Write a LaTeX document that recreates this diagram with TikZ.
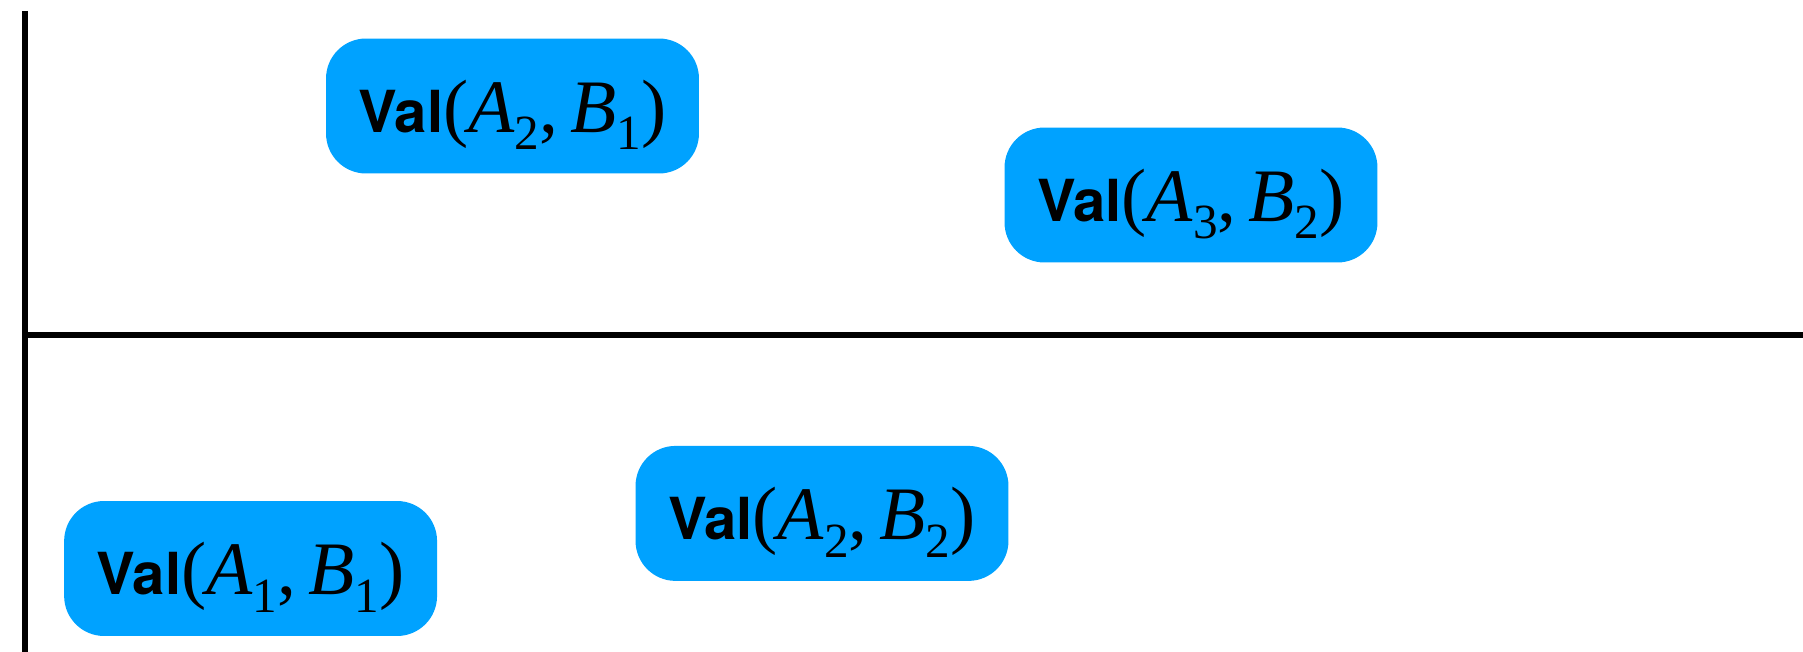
\documentclass[tikz,border=0pt]{standalone}
\usepackage{fontspec}
\setsansfont{TeX Gyre Heros}
\newfontfamily\timesfont{Liberation Serif}
\usepackage{tikz}
\definecolor{valblue}{RGB}{0,162,255}
\newcommand{\valpair}[4]{{\sffamily\bfseries\fontsize{33}{40}\selectfont Val}{\timesfont\fontsize{43}{48}\selectfont (\textit{#1}\raisebox{-10pt}{\fontsize{28}{30}\selectfont #2},\hspace{0.16em}\textit{#3}\raisebox{-10pt}{\fontsize{28}{30}\selectfont #4})}}

\begin{document}
\begin{tikzpicture}[x=0.02cm,y=-0.02cm,
    valbox/.style={fill=valblue, rounded corners=0.8cm, inner sep=0pt,
        minimum width=7.46cm, minimum height=2.7cm, text height=30pt, text depth=0pt}]
    \useasboundingbox (0,0) rectangle (1803,652);
    \coordinate (top) at (25.3,11);
    \coordinate (bottom) at (25.3,652);
    \coordinate (left) at (25.3,334.7);
    \coordinate (right) at (1803,334.7);
    \draw[line width=3.5pt] (top) -- (bottom);
    \draw[line width=3.5pt] (left) -- (right);
    \node[valbox] (a2b1) at (512.5,106) {\valpair{A}{2}{B}{1}};
    \node[valbox] (a3b2) at (1191,195) {\valpair{A}{3}{B}{2}};
    \node[valbox] (a1b1) at (250.6,568.5) {\valpair{A}{1}{B}{1}};
    \node[valbox] (a2b2) at (822,513.4) {\valpair{A}{2}{B}{2}};
\end{tikzpicture}
\end{document}
